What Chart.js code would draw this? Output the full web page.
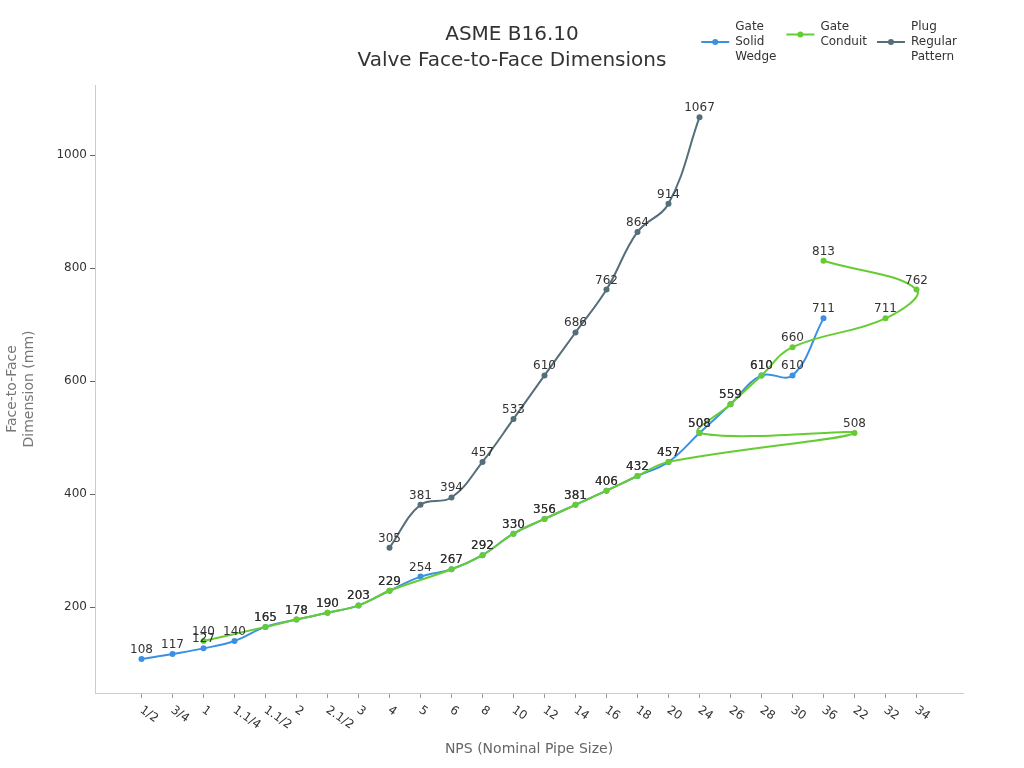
<!DOCTYPE html>
<html>
<head>
<meta charset="utf-8">
<script src="https://cdn.jsdelivr.net/npm/chart.js@4.4.0/dist/chart.umd.min.js"></script>
<style>
  html, body { margin: 0; padding: 0; background: #fff; }
</style>
</head>
<body>
<canvas id="chart" width="1024" height="768"></canvas>
<script>
// --- Données ---
// ordre des tailles NPS sur l'axe x (22, 32, 34 arrivent à la fin)
const npsLabels = ['1/2', '3/4', '1', '1.1/4', '1.1/2', '2', '2.1/2', '3', '4', '5', '6', '8', '10', '12', '14', '16', '18', '20', '24', '26', '28', '30', '36', '22', '32', '34'];

const wedgeSizes = ['1/2', '3/4', '1', '1.1/4', '1.1/2', '2', '2.1/2', '3', '4', '5', '6', '8', '10', '12', '14', '16', '18', '20', '24', '26', '28', '30', '36'];
const wedgeValues = [108, 117, 127, 140, 165, 178, 190, 203, 229, 254, 267, 292, 330, 356, 381, 406, 432, 457, 508, 559, 610, 610, 711];

const conduitSizes = ['1', '1.1/2', '2', '2.1/2', '3', '4', '6', '8', '10', '12', '14', '16', '18', '20', '22', '24', '26', '28', '30', '32', '34', '36'];
const conduitValues = [140, 165, 178, 190, 203, 229, 267, 292, 330, 356, 381, 406, 432, 457, 508, 508, 559, 610, 660, 711, 762, 813];

const plugSizes = ['4', '5', '6', '8', '10', '12', '14', '16', '18', '20', '24'];
const plugValues = [305, 381, 394, 457, 533, 610, 686, 762, 864, 914, 1067];

const yTicks = [200, 400, 600, 800, 1000];

const titleLines = ['ASME B16.10', 'Valve Face-to-Face Dimensions'];

const FONT = "'DejaVu Sans', sans-serif";
Chart.defaults.font.family = FONT;

// transforme (taille, valeur) en points {x: index, y}
function toPoints(sizes, values) {
  return sizes.map((s, i) => ({ x: npsLabels.indexOf(s), y: values[i] }));
}

// Titre centré sur le canvas
const titlePlugin = {
  id: 'titreCentre',
  afterDraw(chart) {
    const ctx = chart.ctx;
    ctx.save();
    ctx.font = '20px ' + FONT;
    ctx.fillStyle = '#333';
    ctx.textAlign = 'center';
    ctx.textBaseline = 'middle';
    titleLines.forEach((t, i) => ctx.fillText(t, chart.width / 2, 35 + i * 26));
    ctx.restore();
  }
};

// Légende avec libellés sur plusieurs lignes
const legendPlugin = {
  id: 'legendeMultiLigne',
  afterDraw(chart) {
    const ctx = chart.ctx;
    const lh = 15, sym = 28, gap = 6, itemGap = 10, top = 27, right = 957;
    ctx.save();
    ctx.font = '12px ' + FONT;
    const items = chart.data.datasets.map(ds => {
      const w = Math.max(...ds.label.map(t => ctx.measureText(t).width));
      return { ds, w: sym + gap + w };
    });
    let x = right - items.reduce((a, it) => a + it.w, 0) - itemGap * (items.length - 1);
    items.forEach(({ ds, w }) => {
      const ySym = top + (ds.label.length - 1) * lh / 2;
      ctx.strokeStyle = ds.borderColor;
      ctx.lineWidth = 2;
      ctx.beginPath();
      ctx.moveTo(x, ySym);
      ctx.lineTo(x + sym, ySym);
      ctx.stroke();
      ctx.fillStyle = ds.borderColor;
      ctx.beginPath();
      ctx.arc(x + sym / 2, ySym, 3, 0, Math.PI * 2);
      ctx.fill();
      ctx.fillStyle = '#333';
      ctx.textAlign = 'left';
      ctx.textBaseline = 'middle';
      ds.label.forEach((t, i) => ctx.fillText(t, x + sym + gap, top + i * lh));
      x += w + itemGap;
    });
    ctx.restore();
  }
};

// Libellés de l'axe x inclinés vers le bas
const xLabelsPlugin = {
  id: 'etiquettesX',
  afterDraw(chart) {
    const ctx = chart.ctx;
    const sx = chart.scales.x;
    ctx.save();
    ctx.font = '12px ' + FONT;
    ctx.fillStyle = '#333';
    ctx.textAlign = 'left';
    ctx.textBaseline = 'top';
    npsLabels.forEach((lab, i) => {
      const px = sx.getPixelForValue(i);
      ctx.save();
      ctx.translate(px + 3, sx.top + 11);
      ctx.rotate(35 * Math.PI / 180);
      ctx.fillText(lab, 0, 0);
      ctx.restore();
    });
    ctx.restore();
  }
};

// Valeurs au-dessus des points
const valueLabelsPlugin = {
  id: 'valeurs',
  afterDatasetsDraw(chart) {
    const ctx = chart.ctx;
    ctx.save();
    ctx.font = '12px ' + FONT;
    ctx.fillStyle = '#333';
    ctx.textAlign = 'center';
    ctx.textBaseline = 'alphabetic';
    chart.data.datasets.forEach((ds, di) => {
      const meta = chart.getDatasetMeta(di);
      meta.data.forEach((pt, i) => {
        ctx.fillText(String(ds.data[i].y), pt.x, pt.y - 6);
      });
    });
    ctx.restore();
  }
};

const colors = ['#3a91e4', '#66cc33', '#546e7a'];

function lineDataset(label, points, color, order) {
  return {
    label: label,
    data: points,
    borderColor: color,
    backgroundColor: color,
    pointBackgroundColor: color,
    pointBorderColor: color,
    pointRadius: 3,
    pointBorderWidth: 0,
    borderWidth: 2,
    tension: 0.4,
    fill: false,
    order: order
  };
}

new Chart(document.getElementById('chart'), {
  type: 'line',
  data: {
    datasets: [
      lineDataset(['Gate', 'Solid', 'Wedge'], toPoints(wedgeSizes, wedgeValues), colors[0], 1),
      lineDataset(['Gate', 'Conduit'], toPoints(conduitSizes, conduitValues), colors[1], 0),
      lineDataset(['Plug', 'Regular', 'Pattern'], toPoints(plugSizes, plugValues), colors[2], 2)
    ]
  },
  options: {
    responsive: false,
    animation: false,
    layout: { padding: { top: 85, right: 61, left: 0, bottom: 0 } },
    plugins: {
      legend: { display: false },
      title: { display: false },
      tooltip: { enabled: false }
    },
    scales: {
      x: {
        type: 'linear',
        min: -1.5,
        max: npsLabels.length + 0.5,
        afterBuildTicks: s => { s.ticks = npsLabels.map((_, i) => ({ value: i })); },
        afterFit: s => { s.height = 75; },
        grid: { drawOnChartArea: false, drawTicks: true, tickLength: 5, color: '#999' },
        border: { display: true, color: '#ccc' },
        ticks: { display: false },
        title: {
          display: true,
          text: 'NPS (Nominal Pipe Size)',
          color: '#666',
          font: { size: 14 },
          padding: { top: 0, bottom: 10 }
        }
      },
      y: {
        type: 'linear',
        min: 48,
        max: 1124,
        afterBuildTicks: s => { s.ticks = yTicks.map(v => ({ value: v })); },
        afterFit: s => { s.width = 95; },
        grid: { drawOnChartArea: false, drawTicks: true, tickLength: 5, color: '#666' },
        border: { display: true, color: '#ccc' },
        ticks: { color: '#333', font: { size: 12 }, padding: 3, callback: v => String(v) },
        title: {
          display: true,
          text: ['Face-to-Face', 'Dimension (mm)'],
          color: '#777',
          font: { size: 14 },
          padding: { top: 4, bottom: 0 }
        }
      }
    }
  },
  plugins: [titlePlugin, legendPlugin, xLabelsPlugin, valueLabelsPlugin]
});
</script>
</body>
</html>
